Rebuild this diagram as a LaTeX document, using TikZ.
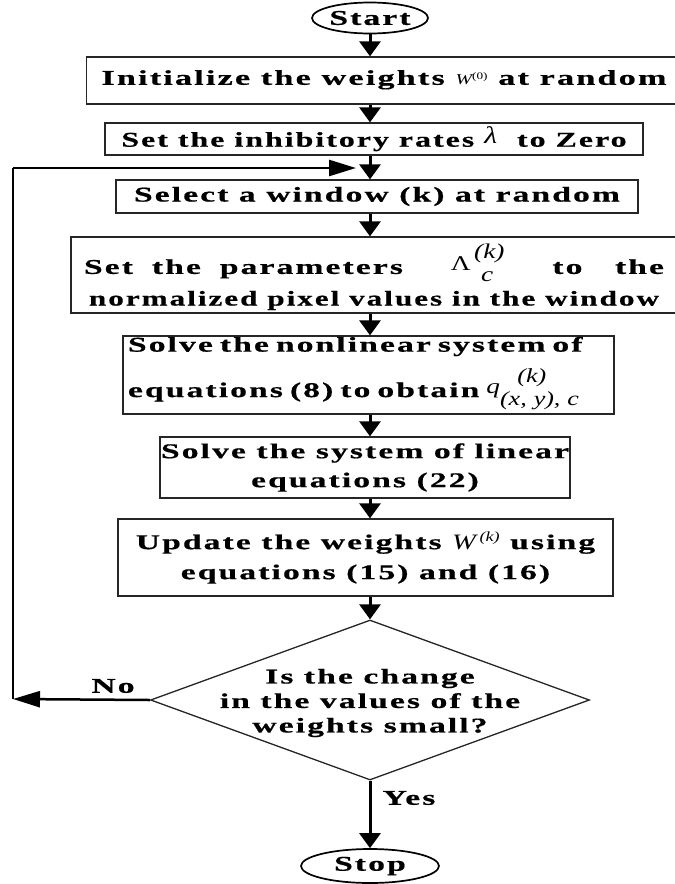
\documentclass[tikz,border=0pt]{standalone}
\usepackage{fontspec}
\usepackage{graphicx}
\setmainfont{Liberation Serif}
\newfontfamily\fcfont{Liberation Serif}[FakeStretch=1.6,LetterSpace=10,FakeBold=0.6]
\newfontfamily\mvfont{Liberation Serif}[FakeStretch=1.3]
\usetikzlibrary{arrows.meta,shapes.geometric}
\newcommand\mvtx[2]{\mbox{\mvfont\mdseries\upshape\fontsize{#1}{#1}\selectfont #2}}
\newcommand\mvit[2]{\mbox{\mvfont\mdseries\itshape\fontsize{#1}{#1}\selectfont #2}}
\tikzset{
  flowbox/.style={draw=black!85,line width=1.3pt,rectangle,inner sep=0pt,align=center,
    font=\fcfont\bfseries\fontsize{21}{27}\selectfont},
  termnode/.style={draw=black,line width=1.7pt,ellipse,inner sep=0pt,
    font=\fcfont\bfseries\fontsize{21}{24}\selectfont},
  decnode/.style={draw=black!85,line width=1.3pt,diamond,inner sep=0pt},
  dectext/.style={inner sep=0pt,align=center,font=\fcfont\bfseries\fontsize{21}{24.5}\selectfont},
  downarr/.style={line width=3pt,-{Triangle[length=15pt,width=21pt]}},
  sidearr/.style={line width=2.5pt,-{Triangle[length=27pt,width=16pt]}},
  plainline/.style={line width=2.5pt},
  lbl/.style={font=\fcfont\bfseries\fontsize{21}{24}\selectfont,inner sep=0pt}
}
\begin{document}
\begin{tikzpicture}[x=1pt,y=-1pt]
\useasboundingbox (0,0) rectangle (675,884);
\fill[white] (0,0) rectangle (675,884);

\node[termnode,minimum width=116pt,minimum height=31pt] (start) at (370,18) {Start};

\node[flowbox,minimum width=595pt,minimum height=47pt] (b1) at (384,80.5)
  {\scalebox{1.02}[1]{Initialize the weights \mvit{15}{W}\raisebox{5pt}{\mvtx{10}{(0)}} at random}\rule[-6pt]{0pt}{1pt}};

\node[flowbox,minimum width=538pt,minimum height=32pt] (b2) at (374,139)
  {\scalebox{0.95}[1]{Set the inhibitory rates \raisebox{3pt}{\mvit{24}{λ}}\ \ to Zero}};

\node[flowbox,minimum width=522pt,minimum height=33pt] (b3) at (377,196.5)
  {Select a window (k) at random};

\node[flowbox,minimum width=606pt,minimum height=76pt] (b4) at (374,275)
  {\makebox[580pt][s]{Set\hspace{10pt plus 1fil}the\hspace{10pt plus 1fil}parameters\hspace{30pt plus 2fil}\raisebox{3pt}{\mvtx{21}{Λ}}\,\raisebox{-8pt}{\begin{tabular}[b]{@{}l@{}}\mvit{21}{(k)}\\[-4pt]\mvit{21}{\,\,c}\end{tabular}}\hspace{30pt plus 2fil}to\hspace{20pt plus 1.4fil}the}\\[0pt]
   \scalebox{0.93}[1]{normalized pixel values in the window}};

\node[flowbox,minimum width=491pt,minimum height=78pt,text width=481pt,align=left] (b5) at (368.5,375)
  {Solve the nonlinear system of\\[6pt]
   equations (8) to obtain \raisebox{4pt}{\mvit{21}{q}}\raisebox{-8pt}{\begin{tabular}[b]{@{}l@{}}\mvit{20}{\ \ \,(k)}\\[-4pt]\mvit{20}{(x, y), c}\end{tabular}}};

\node[flowbox,minimum width=410pt,minimum height=61pt] (b6) at (365,467.5)
  {Solve the system of linear\\[2pt] equations (22)};

\node[flowbox,minimum width=495pt,minimum height=77pt] (b7) at (365.5,557.5)
  {Update the weights \mvit{22}{W}\,\raisebox{8pt}{\mvit{14}{(k)}} using\\[3pt] equations (15) and (16)};

\node[decnode,minimum width=439pt,minimum height=160pt] (dec) at (370,700) {};
\node[dectext] (dectxt) at (370,703) {Is the change\\ in the values of the\\ weights small?};

\node[termnode,minimum width=138pt,minimum height=34pt] (stop) at (370,866) {Stop};

\draw[downarr] (start.south) -- (start.south |- b1.north);
\draw[downarr] (b1.south -| start.south) -- (start.south |- b2.north);
\draw[downarr] (b2.south -| start.south) -- (start.south |- b3.north);
\draw[downarr] (b3.south -| start.south) -- (start.south |- b4.north);
\draw[downarr] (b4.south -| start.south) -- (start.south |- b5.north);
\draw[downarr] (b5.south -| start.south) -- (start.south |- b6.north);
\draw[downarr] (b6.south -| start.south) -- (start.south |- b7.north);
\draw[downarr] (b7.south -| start.south) -- (dec.north);
\draw[downarr] (dec.south) -- (stop.north);

\coordinate (nocorner) at (13,699);
\coordinate (loopcorner) at (13,168);
\coordinate (loopend) at (356,168);
\draw[sidearr] (dec.west) -- (nocorner);
\draw[plainline] (nocorner) -- (loopcorner);
\draw[sidearr] (loopcorner) -- (loopend);

\node[lbl] (nolbl) at (113,686) {No};
\node[lbl] (yeslbl) at (409,798) {Yes};
\end{tikzpicture}
\end{document}
